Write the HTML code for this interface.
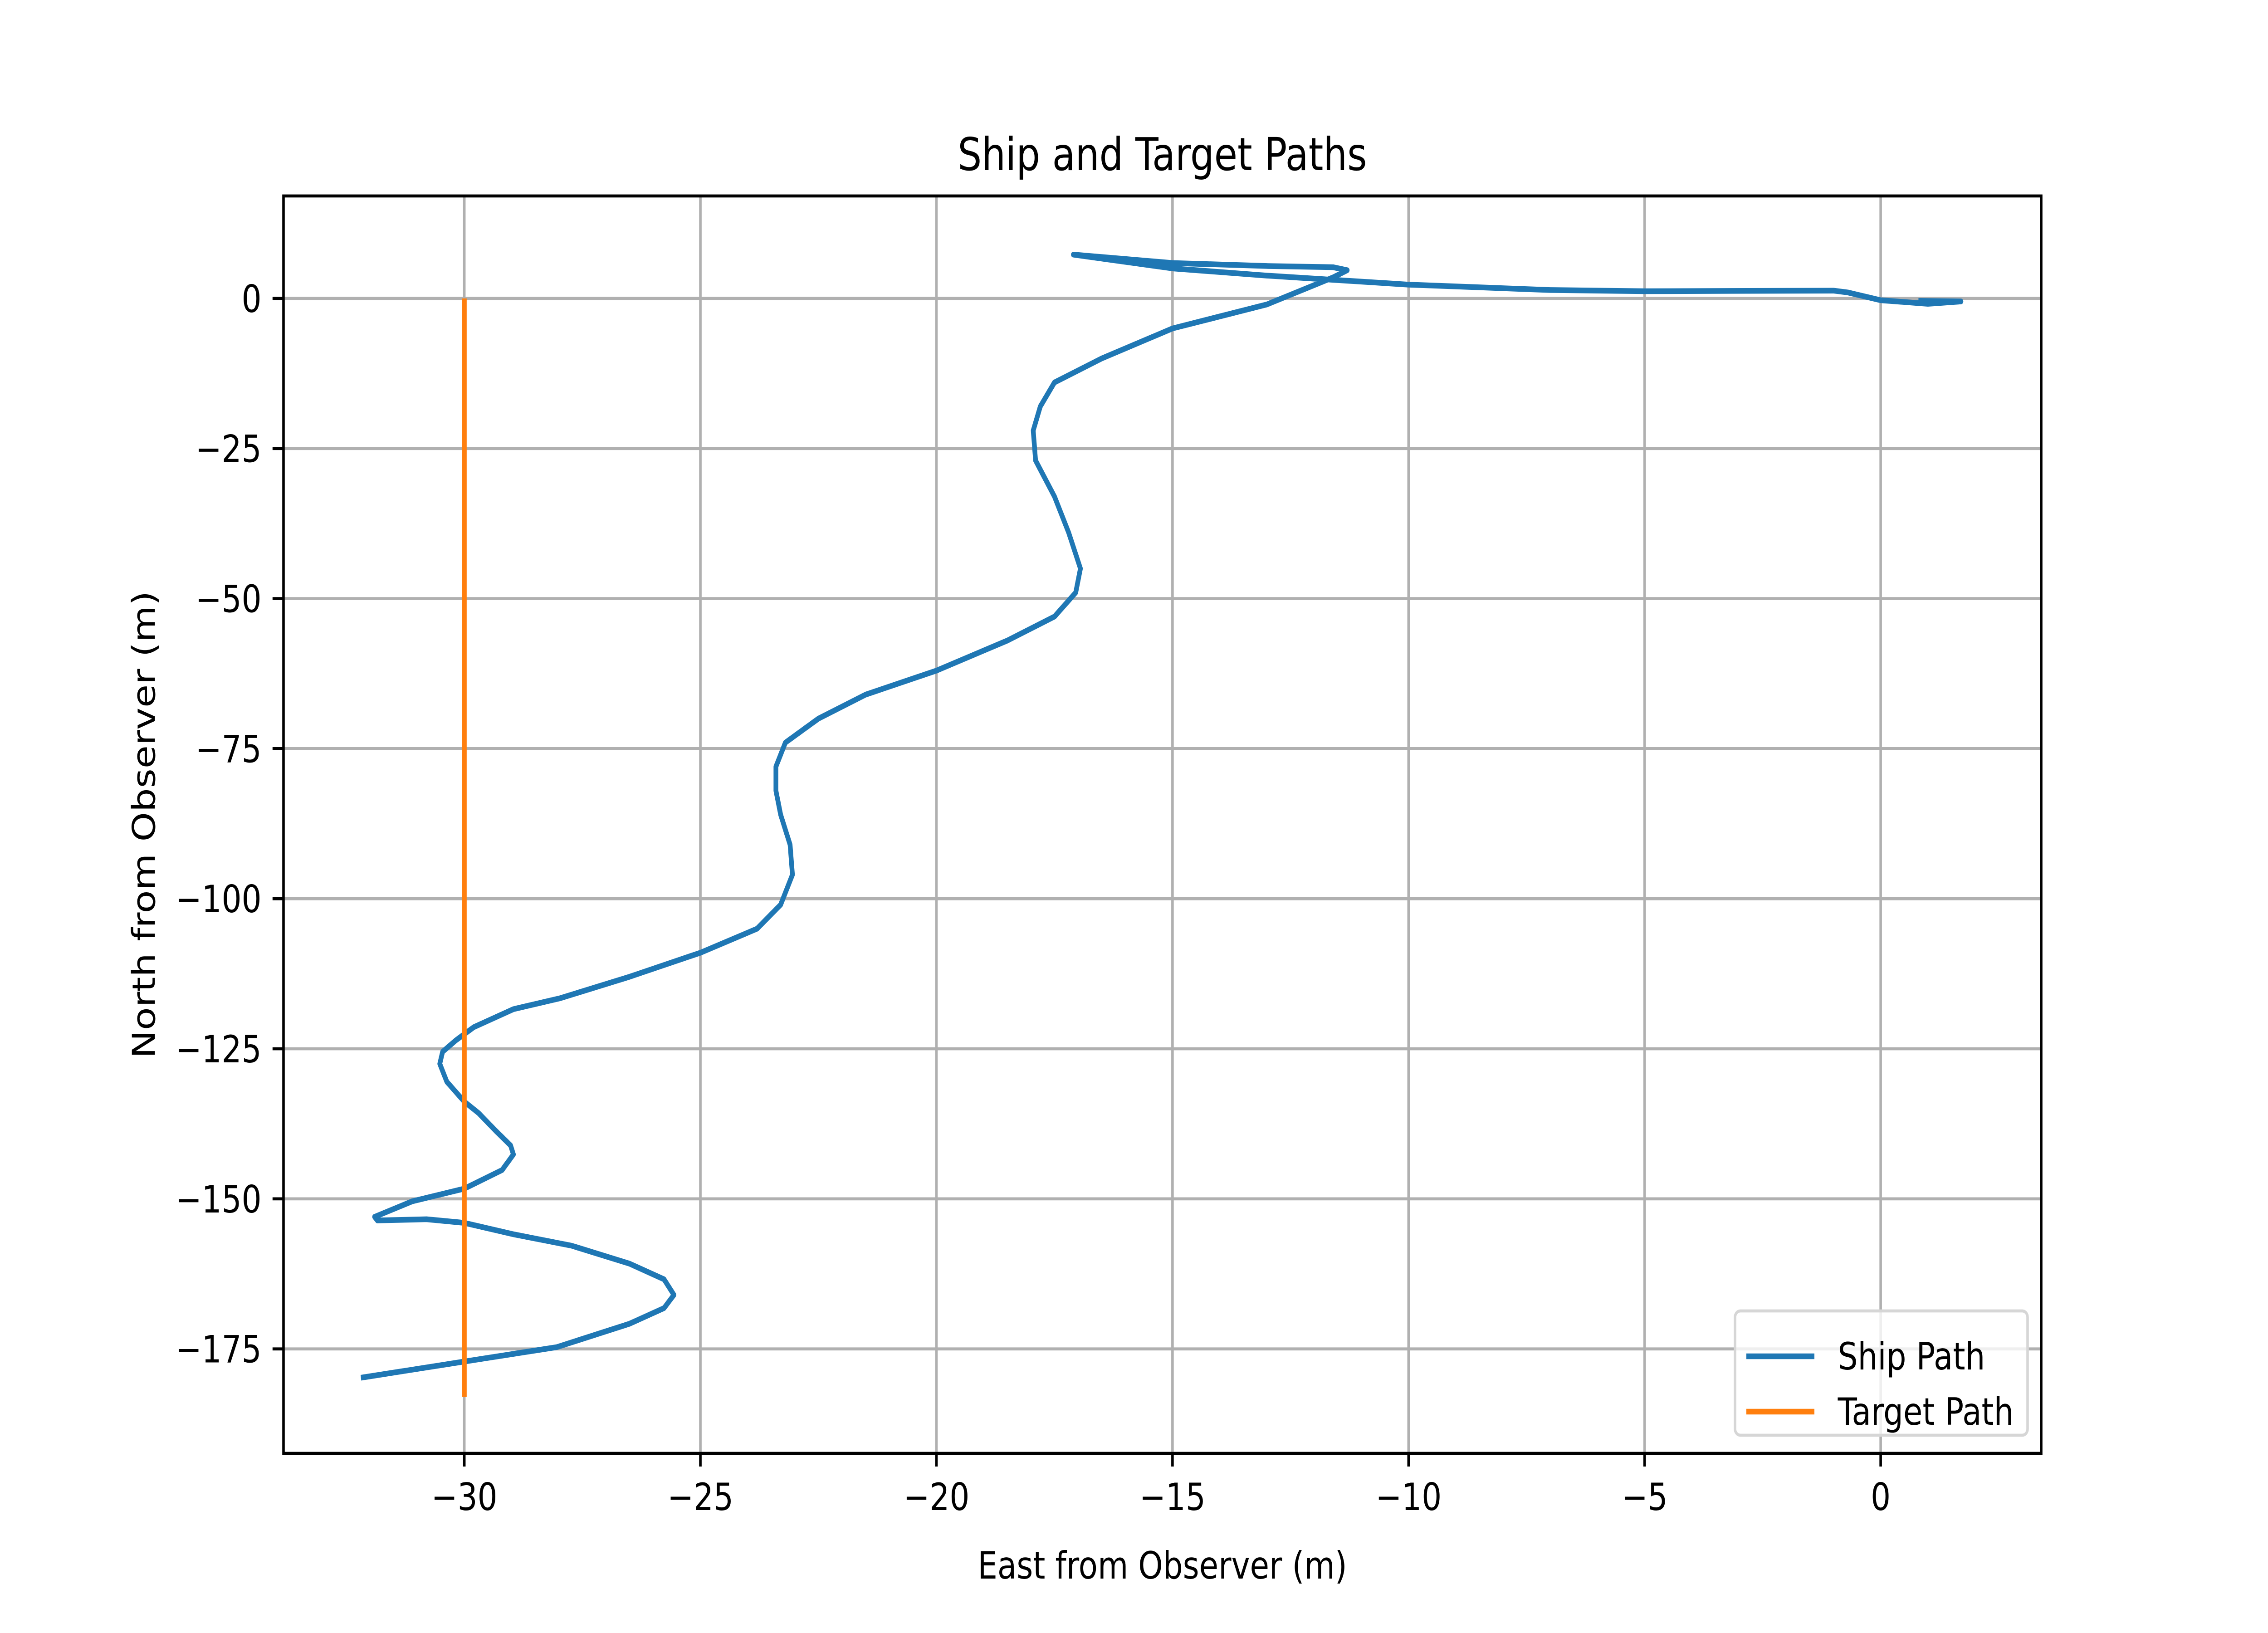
<!DOCTYPE html>
<html><head><meta charset="utf-8"><style>html,body{margin:0;padding:0;background:#fff;width:100%;height:100%;overflow:hidden}svg{display:block;width:100vw;height:100vh}text{font-family:"DejaVu Sans","Liberation Sans",sans-serif}</style></head>
<body>
<svg id="chart" viewBox="0 0 6000 3600" preserveAspectRatio="none" xmlns="http://www.w3.org/2000/svg">
<rect width="6000" height="3600" fill="#fff"/>
<g id="grid"></g>
<g id="series"></g>
<rect x="750" y="432" width="4650" height="2772" fill="none" stroke="#000" stroke-width="6.7"/>
<g id="ticks"></g>
<text x="3075" y="375" font-size="100" text-anchor="middle">Ship and Target Paths</text>
<text x="3075" y="3480" font-size="83" text-anchor="middle">East from Observer (m)</text>
<text x="410" y="1818" font-size="83" text-anchor="middle" transform="rotate(-90 410 1818)">North from Observer (m)</text>
<g>
<rect x="4590" y="2890" width="774" height="274" rx="14" fill="#fff" fill-opacity="0.8" stroke="#d6d6d6" stroke-width="6.7"/>
<line x1="4620" y1="2990" x2="4800" y2="2990" stroke="#1f77b4" stroke-width="12.5"/>
<text x="4862" y="3019" font-size="83">Ship Path</text>
<line x1="4620" y1="3112" x2="4800" y2="3112" stroke="#ff7f0e" stroke-width="12.5"/>
<text x="4862" y="3141" font-size="83">Target Path</text>
</g>
</svg>
<script>
const xTicks=[-30,-25,-20,-15,-10,-5,0];
const yTicks=[0,-25,-50,-75,-100,-125,-150,-175];
const shipX=[-32.19,-30,-28.04,-26.5,-25.77,-25.56,-25.77,-26.5,-27.73,-28.96,-30,-30.8,-31.84,-31.9,-31.1,-30,-29.2,-28.96,-29.02,-29.33,-29.7,-30,-30.37,-30.52,-30.46,-30.18,-29.8,-28.96,-27.98,-26.5,-25,-23.8,-23.3,-23.05,-23.1,-23.3,-23.4,-23.4,-23.2,-22.5,-21.5,-20,-18.5,-17.5,-17.05,-16.95,-17.2,-17.5,-17.9,-17.95,-17.8,-17.5,-16.5,-15,-13,-11.6,-11.3,-11.6,-13,-15,-17.1,-15,-13,-10,-7,-5,-1,-0.7,0,1,1.7,0.8];
const shipY=[-179.8,-177.1,-174.7,-170.8,-168.2,-166,-163.4,-160.8,-157.8,-155.9,-154,-153.4,-153.6,-153,-150.4,-148.3,-145.2,-142.6,-141.1,-138.7,-135.7,-133.8,-130.5,-127.5,-125.5,-123.6,-121.4,-118.4,-116.6,-113,-109,-105,-101,-96,-91,-86,-82,-78,-74,-70,-66,-62,-57,-53,-49,-45,-39,-33,-27,-22,-18,-14,-10,-5,-1,3.5,4.7,5.2,5.4,5.9,7.3,5.0,3.8,2.3,1.4,1.2,1.3,1.0,-0.3,-0.9,-0.5,-0.4];
const targetX=[-30,-30];
const targetY=[0,-183];
const X0=-33.83,X1=3.40,Y0=17.07,Y1=-192.4;
const L=750,R=5400,T=432,B=3204;
const sx=v=>L+(v-X0)/(X1-X0)*(R-L);
const sy=v=>T+(Y0-v)/(Y0-Y1)*(B-T);
const NS='http://www.w3.org/2000/svg';
const mk=(t,a,p)=>{const e=document.createElementNS(NS,t);for(const k in a)e.setAttribute(k,a[k]);p.appendChild(e);return e;};
const grid=document.getElementById('grid'),ticks=document.getElementById('ticks'),series=document.getElementById('series');
xTicks.forEach(v=>{const x=sx(v);
 const g=mk('line',{x1:x,y1:T,x2:x,y2:B,stroke:'#b0b0b0','stroke-width':6.7},grid);
 
 
 const t=mk('line',{x1:x,y1:B,x2:x,y2:B+29,stroke:'#000','stroke-width':6.7},ticks);
 
 
 const l=mk('text',{x:x,y:B+125,'font-size':83,'text-anchor':'middle'},ticks);
 
 
 l.textContent=(v<0?'\u2212'+(-v):String(v));});
yTicks.forEach(v=>{const y=sy(v);
 const g=mk('line',{x1:L,y1:y,x2:R,y2:y,stroke:'#b0b0b0','stroke-width':6.7},grid);
 
 
 const t=mk('line',{x1:L-29,y1:y,x2:L,y2:y,stroke:'#000','stroke-width':6.7},ticks);
 
 
 const l=mk('text',{x:L-58,y:y+30,'font-size':83,'text-anchor':'end'},ticks);
 
 
 l.textContent=(v<0?'\u2212'+(-v):String(v));});
const pts=(xs,ys)=>xs.map((x,i)=>sx(x)+','+sy(ys[i])).join(' ');
const ship=mk('polyline',{points:pts(shipX,shipY),fill:'none',stroke:'#1f77b4','stroke-width':12.5,'stroke-linejoin':'round'},series);


const tgt=mk('polyline',{points:pts(targetX,targetY),fill:'none',stroke:'#ff7f0e','stroke-width':12.5},series);


</script>
</body></html>
